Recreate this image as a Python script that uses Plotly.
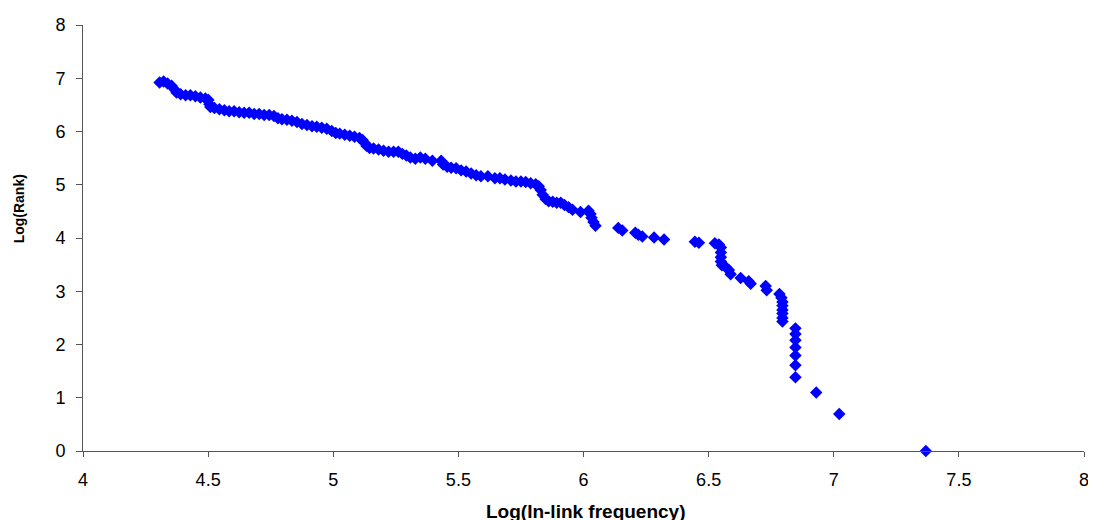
import plotly.graph_objects as go

# Log(In-link frequency) and Log(Rank) values
log_freq = [
    4.306, 4.322, 4.338, 4.354, 4.366, 4.374, 4.390, 4.410, 4.429, 4.449,
    4.469, 4.489, 4.501, 4.505, 4.509, 4.525, 4.545, 4.565, 4.584, 4.604,
    4.624, 4.644, 4.664, 4.684, 4.704, 4.724, 4.744, 4.763, 4.779, 4.795,
    4.815, 4.835, 4.855, 4.875, 4.895, 4.915, 4.934, 4.954, 4.974, 4.994,
    5.010, 5.026, 5.046, 5.066, 5.085, 5.105, 5.117, 5.125, 5.133, 5.145,
    5.161, 5.181, 5.201, 5.221, 5.241, 5.260, 5.276, 5.292, 5.308, 5.328,
    5.348, 5.368, 5.396, 5.431, 5.439, 5.455, 5.471, 5.491, 5.511, 5.531,
    5.551, 5.571, 5.590, 5.618, 5.646, 5.666, 5.686, 5.710, 5.730, 5.750,
    5.769, 5.789, 5.809, 5.821, 5.829, 5.837, 5.849, 5.861, 5.877, 5.893,
    5.909, 5.924, 5.940, 5.956, 5.988, 6.020, 6.028, 6.032, 6.040, 6.048,
    6.139, 6.155, 6.207, 6.219, 6.235, 6.282, 6.322, 6.445, 6.461, 6.525,
    6.541, 6.549, 6.549, 6.549, 6.549, 6.553, 6.569, 6.581, 6.588, 6.628,
    6.660, 6.668, 6.728, 6.732, 6.783, 6.791, 6.795, 6.795, 6.795, 6.795,
    6.795, 6.795, 6.847, 6.847, 6.847, 6.847, 6.847, 6.847, 6.847, 6.930,
    7.022, 7.368,
]
log_rank = [
    6.92, 6.94, 6.90, 6.86, 6.79, 6.73, 6.70, 6.68, 6.68, 6.66,
    6.64, 6.62, 6.59, 6.51, 6.46, 6.44, 6.42, 6.40, 6.38, 6.38,
    6.36, 6.35, 6.35, 6.33, 6.33, 6.31, 6.31, 6.29, 6.25, 6.23,
    6.22, 6.20, 6.18, 6.14, 6.12, 6.10, 6.09, 6.07, 6.05, 6.01,
    5.97, 5.96, 5.94, 5.92, 5.90, 5.88, 5.84, 5.79, 5.73, 5.69,
    5.68, 5.66, 5.64, 5.62, 5.62, 5.62, 5.58, 5.55, 5.51, 5.49,
    5.51, 5.49, 5.45, 5.45, 5.38, 5.34, 5.32, 5.31, 5.27, 5.25,
    5.21, 5.18, 5.16, 5.16, 5.12, 5.12, 5.10, 5.08, 5.06, 5.06,
    5.05, 5.03, 5.01, 4.97, 4.90, 4.81, 4.73, 4.69, 4.68, 4.66,
    4.66, 4.62, 4.58, 4.53, 4.49, 4.51, 4.45, 4.38, 4.30, 4.23,
    4.19, 4.14, 4.10, 4.06, 4.03, 4.01, 3.97, 3.93, 3.91, 3.90,
    3.88, 3.82, 3.73, 3.64, 3.56, 3.49, 3.45, 3.40, 3.32, 3.25,
    3.19, 3.14, 3.10, 3.02, 2.95, 2.88, 2.80, 2.73, 2.65, 2.58,
    2.50, 2.43, 2.303, 2.197, 2.079, 1.946, 1.792, 1.609, 1.386, 1.099,
    0.693, 0.0,
]

x_ticks = [4, 4.5, 5, 5.5, 6, 6.5, 7, 7.5, 8]
x_tick_labels = ["4", "4.5", "5", "5.5", "6", "6.5", "7", "7.5", "8"]
y_ticks = [0, 1, 2, 3, 4, 5, 6, 7, 8]
y_tick_labels = ["0", "1", "2", "3", "4", "5", "6", "7", "8"]

FONT = "Arial, Liberation Sans, Helvetica, sans-serif"
AXIS_COLOR = "#555555"

fig = go.Figure()
fig.add_trace(go.Scatter(
    x=log_freq, y=log_rank, mode="markers",
    marker=dict(symbol="diamond", size=9.6, color="#0000FF", line=dict(width=0)),
    cliponaxis=False, showlegend=False,
))

# The page body adds an 8 px margin, so the figure is sized and offset to compensate.
fig.update_layout(
    width=1088, height=512,
    margin=dict(l=75, r=7, t=12, b=69),
    paper_bgcolor="white", plot_bgcolor="white",
    font=dict(family=FONT, color="black"),
    xaxis=dict(
        range=[4, 8], tickvals=x_ticks, ticktext=x_tick_labels,
        showgrid=False, zeroline=False, showline=True, linecolor=AXIS_COLOR, linewidth=1,
        ticks="outside", ticklen=5, tickcolor=AXIS_COLOR, tickwidth=1,
        tickfont=dict(size=18, family=FONT, color="black"),
        ticklabelstandoff=7,
    ),
    yaxis=dict(
        range=[0, 8], tickvals=y_ticks, ticktext=y_tick_labels,
        showgrid=False, zeroline=False, showline=True, linecolor=AXIS_COLOR, linewidth=1,
        ticks="outside", ticklen=6, tickcolor=AXIS_COLOR, tickwidth=1,
        tickfont=dict(size=18, family=FONT, color="black"),
        ticklabelstandoff=7,
    ),
    annotations=[
        dict(text="<b>Log(In-link frequency)</b>", xref="paper", yref="paper",
             x=0.5025, y=-0.1415, xanchor="center", yanchor="middle", showarrow=False,
             font=dict(size=19, family=FONT, color="black")),
        dict(text="<b>Log(Rank)</b>", xref="paper", yref="paper",
             x=-0.0636, y=0.568, xanchor="center", yanchor="middle", showarrow=False,
             textangle=-90, font=dict(size=14, family=FONT, color="black")),
    ],
)

fig.write_html("out.html")
